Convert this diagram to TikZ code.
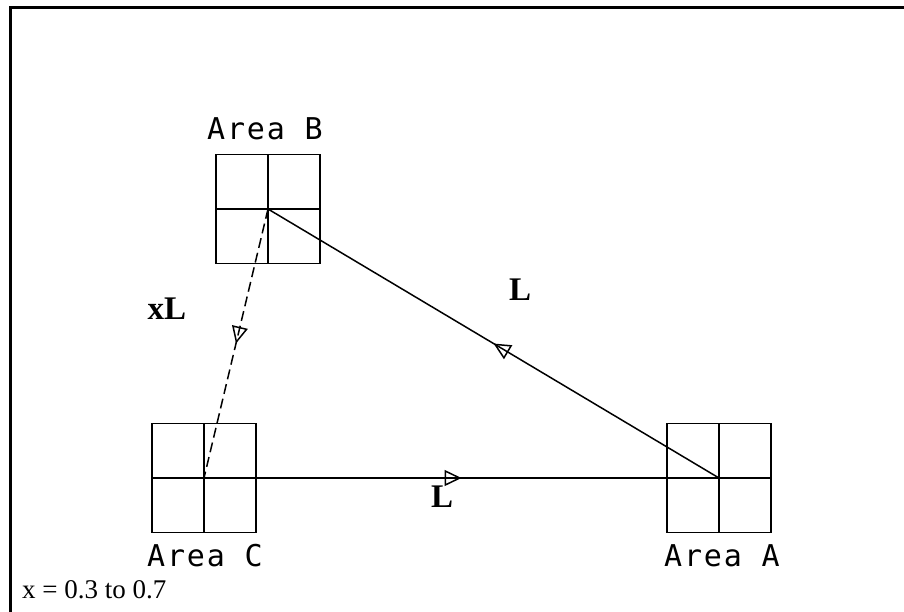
\documentclass[tikz,border=0pt]{standalone}
\usepackage{fontspec}
\setmainfont{Liberation Serif}
\newfontfamily\cadfont[LetterSpace=6]{DejaVu Sans Mono}
\usetikzlibrary{arrows.meta,decorations.markings}
\tikzset{
  areabox/.style={draw, line width=1.5pt, minimum width=104pt, minimum height=109pt, inner sep=0pt,
    path picture={\draw[line width=1.5pt] (path picture bounding box.north) -- (path picture bounding box.south)
      (path picture bounding box.west) -- (path picture bounding box.east);}},
  arealabel/.style={font=\cadfont\fontsize{30}{32}\selectfont, inner sep=0pt},
  linklabel/.style={font=\bfseries\fontsize{33}{35}\selectfont, inner sep=0pt},
  link/.style={line width=1.5pt},
  midarrow/.style={postaction={decorate, decoration={markings,
    mark=at position 0.5 with {\arrow[solid, line width=1.5pt]{Triangle[open, length=17pt, width=16pt]}}}}},
}
\begin{document}
\begin{tikzpicture}[x=1pt, y=-1pt]
\useasboundingbox (0,0) rectangle (904,611);
\draw[line width=3pt] (10,620) -- (10,7) -- (910,7);
\node[areabox] (B) at (268,209) {};
\node[areabox] (C) at (204,478) {};
\node[areabox] (A) at (719,478) {};
\node[arealabel] (labB) at (265,129) {Area B};
\node[arealabel] (labC) at (205,556) {Area C};
\node[arealabel] (labA) at (722,556) {Area A};
\draw[link, midarrow] (A.center) -- (B.center);
\draw[link, midarrow] (C.center) -- (A.center);
\draw[link, dash pattern=on 10pt off 5pt, midarrow] (B.center) -- (C.center);
\node[linklabel] (xL) at (167,309) {xL};
\node[linklabel] (L1) at (520,290) {L};
\node[linklabel] (L2) at (442,497) {L};
\node[font=\fontsize{27}{29}\selectfont, anchor=west, inner sep=0pt] (note) at (22,590) {x = 0.3 to 0.7};
\end{tikzpicture}
\end{document}
